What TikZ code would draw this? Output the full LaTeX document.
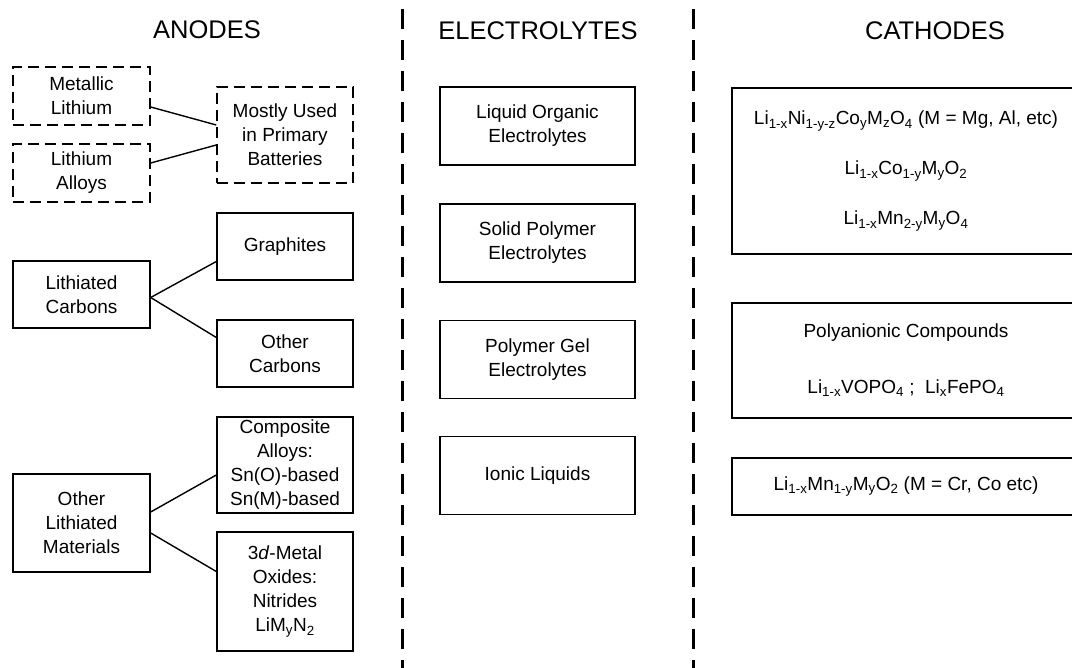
\documentclass[tikz,border=0pt]{standalone}
\usepackage{fontspec}
\setmainfont{Liberation Sans}
\usetikzlibrary{shapes}
\tikzstyle{bx}=[rectangle,draw=black,line width=1.4pt,align=center,inner sep=1pt,font=\fontsize{19}{24}\selectfont]
\tikzstyle{dbx}=[bx,dash pattern=on 11pt off 6pt]
\tikzstyle{ttl}=[font=\fontsize{25.5}{30}\selectfont]
\tikzstyle{ln}=[line width=1.4pt]
\tikzstyle{sep}=[line width=3pt,dash pattern=on 20pt off 11pt]
\newcommand{\sbs}[1]{\textsubscript{#1}}

\begin{document}
\begin{tikzpicture}[x=1pt,y=-1pt]
\useasboundingbox (0,0) rectangle (1072,668);
\clip (0,0) rectangle (1072,668);
% column titles
\node[ttl] (tan) at (207,30) {ANODES}; \node[ttl] (tel) at (538,31) {ELECTROLYTES}; \node[ttl] (tca) at (935,31) {CATHODES};
% separators
\coordinate (s1a) at (402,9); \coordinate (s1b) at (402,668); \coordinate (s2a) at (693,9); \coordinate (s2b) at (693,668);
\draw[sep] (s1a) -- (s1b); \draw[sep] (s2a) -- (s2b);
% anodes
\node[dbx,minimum width=137pt,minimum height=58pt] (ml) at (81.5,96) {Metallic\\Lithium};
\node[dbx,minimum width=137pt,minimum height=58pt] (la) at (81.5,173) {Lithium\\Alloys};
\node[dbx,minimum width=136pt,minimum height=96pt] (mu) at (285,135) {Mostly Used\\in Primary\\Batteries};
\node[bx,minimum width=136pt,minimum height=67pt] (gr) at (285,246.5) {Graphites};
\node[bx,minimum width=137pt,minimum height=67pt] (lc) at (81.5,294.5) {Lithiated\\Carbons};
\node[bx,minimum width=136pt,minimum height=67pt] (oc) at (285,353.5) {Other\\Carbons};
\node[bx,minimum width=136pt,minimum height=96pt] (ca) at (285,465) {Composite\\Alloys:\\Sn(O)-based\\Sn(M)-based};
\node[bx,minimum width=137pt,minimum height=98pt] (ol) at (81.5,523) {Other\\Lithiated\\Materials};
\node[bx,minimum width=136pt,minimum height=119pt] (md) at (285,591.5) {3\textit{d}-Metal\\Oxides:\\Nitrides\\LiM\sbs{y}N\sbs{2}};
\draw[ln] ([yshift=-11pt]ml.east) -- ([yshift=10pt]mu.west); \draw[ln] ([yshift=10pt]la.east) -- ([yshift=-10pt]mu.west);
\draw[ln] ([yshift=-3pt]lc.east) -- ([yshift=-15pt]gr.west); \draw[ln] ([yshift=-3pt]lc.east) -- ([yshift=16pt]oc.west);
\draw[ln] ([yshift=11pt]ol.east) -- ([yshift=-10pt]ca.west); \draw[ln] ([yshift=-10pt]ol.east) -- ([yshift=20pt]md.west);
% electrolytes
\node[bx,minimum width=195pt,minimum height=78pt] (lo) at (537.5,126) {Liquid Organic\\Electrolytes};
\node[bx,minimum width=195pt,minimum height=78pt] (sp) at (537.5,243) {Solid Polymer\\Electrolytes};
\node[bx,minimum width=195pt,minimum height=78pt] (pg) at (537.5,359.5) {Polymer Gel\\Electrolytes};
\node[bx,minimum width=195pt,minimum height=78pt] (il) at (537.5,475.5) {Ionic Liquids};
% cathodes
\node[bx,minimum width=348pt,minimum height=166pt] (lt) at (906,171) {Li\sbs{1-x}Ni\sbs{1-y-z}Co\sbs{y}M\sbs{z}O\sbs{4} (M = Mg, Al, etc)\\[26pt]Li\sbs{1-x}Co\sbs{1-y}M\sbs{y}O\sbs{2}\\[26pt]Li\sbs{1-x}Mn\sbs{2-y}M\sbs{y}O\sbs{4}};
\node[bx,minimum width=348pt,minimum height=115pt] (pa) at (906,360.5) {Polyanionic Compounds\\[32pt]Li\sbs{1-x}VOPO\sbs{4} ;\ \ Li\sbs{x}FePO\sbs{4}};
\node[bx,minimum width=348pt,minimum height=57pt] (lm) at (906,486.5) {Li\sbs{1-x}Mn\sbs{1-y}M\sbs{y}O\sbs{2} (M = Cr, Co etc)};
\end{tikzpicture}
\end{document}
